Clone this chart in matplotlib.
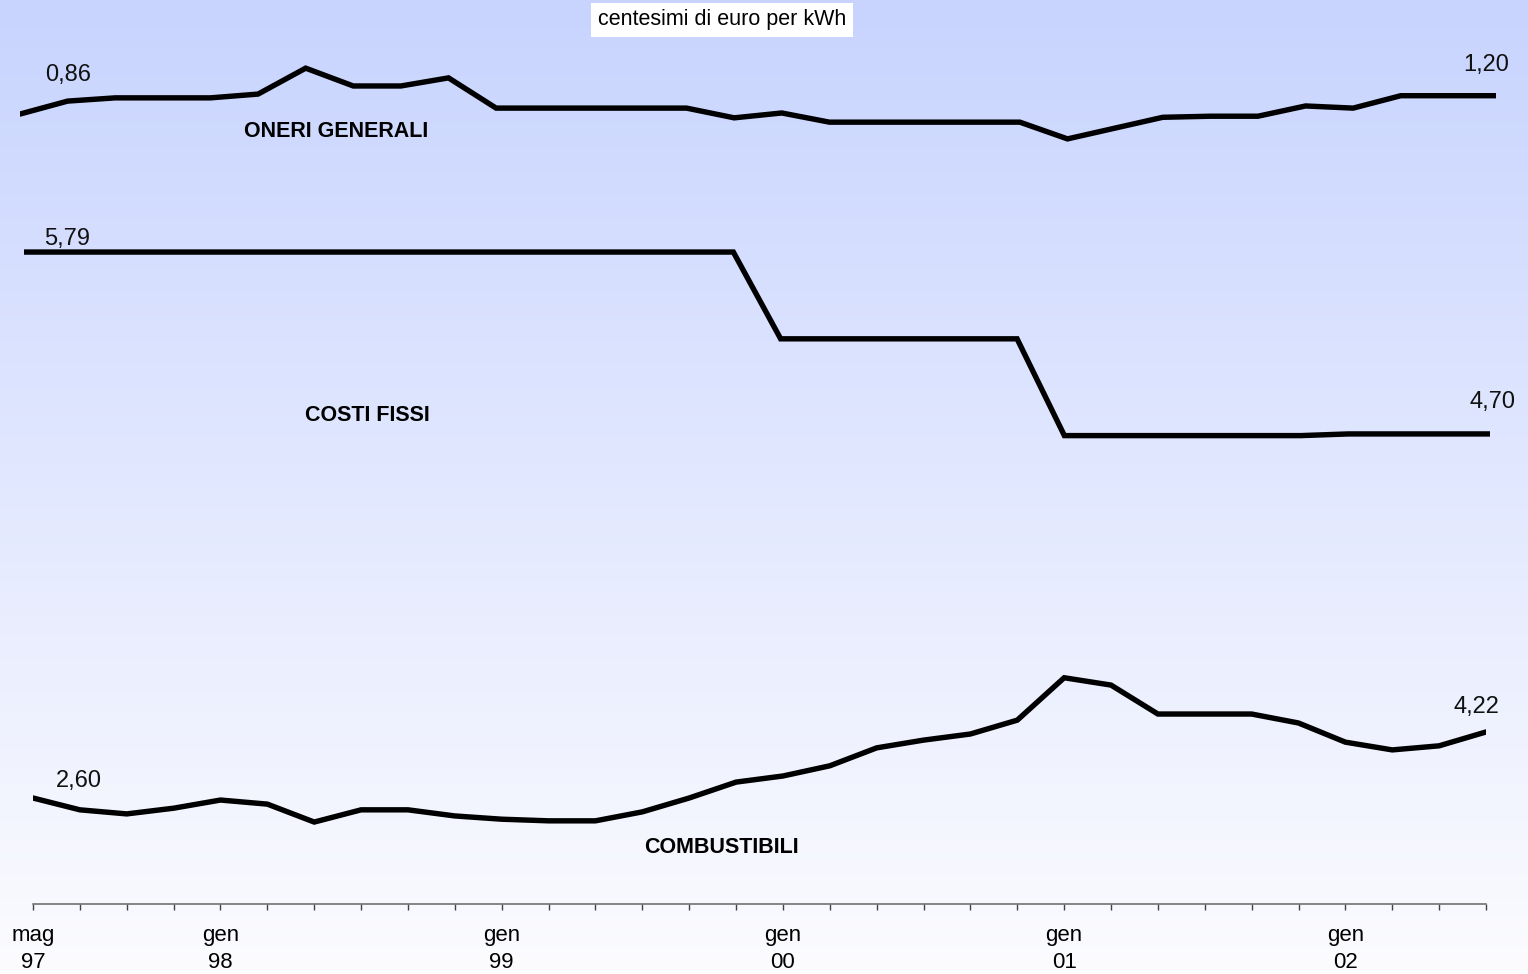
import numpy as np
import matplotlib.pyplot as plt

plt.rcParams['font.family'] = ['Liberation Sans', 'DejaVu Sans']

# bimonthly periods, mag 97 .. lug 02
periods = ['mag 97', 'lug 97', 'set 97', 'nov 97',
           'gen 98', 'mar 98', 'mag 98', 'lug 98', 'set 98', 'nov 98',
           'gen 99', 'mar 99', 'mag 99', 'lug 99', 'set 99', 'nov 99',
           'gen 00', 'mar 00', 'mag 00', 'lug 00', 'set 00', 'nov 00',
           'gen 01', 'mar 01', 'mag 01', 'lug 01', 'set 01', 'nov 01',
           'gen 02', 'mar 02', 'mag 02', 'lug 02']

# centesimi di euro per kWh
oneri_generali = [0.86, 1.10, 1.16, 1.16, 1.16, 1.23, 1.71, 1.38, 1.38, 1.53,
                  0.97, 0.97, 0.97, 0.97, 0.97, 0.79, 0.88, 0.71, 0.71, 0.71,
                  0.71, 0.71, 0.40, 0.60, 0.80, 0.82, 0.82, 1.01, 0.97, 1.20,
                  1.20, 1.20]
costi_fissi = [5.79] * 16 + [5.27] * 6 + [4.69] * 6 + [4.70] * 4
combustibili = [2.60, 2.31, 2.21, 2.35, 2.55, 2.45, 2.01, 2.31, 2.31, 2.16,
                2.08, 2.04, 2.04, 2.26, 2.60, 2.99, 3.14, 3.39, 3.83, 4.02,
                4.17, 4.51, 5.55, 5.37, 4.66, 4.66, 4.66, 4.44, 3.97, 3.78,
                3.88, 4.22]

W, H = 1528, 974
fig = plt.figure(figsize=(W / 100, H / 100), dpi=100)


def box(x0, x1, ytop, ybot):
    # pixel box -> figure fraction
    return [x0 / W, 1 - ybot / H, (x1 - x0) / W, (ybot - ytop) / H]


# gradient background
bg = fig.add_axes([0, 0, 1, 1], zorder=0)
top = np.array([200, 212, 254]) / 255
bot = np.array([252, 252, 255]) / 255
t = np.linspace(0, 1, 256)[:, None]
grad = (top * (1 - t) + bot * t)[:, None, :]
bg.imshow(grad, aspect='auto', extent=[0, 1, 0, 1])
bg.axis('off')

x = np.arange(len(periods))
style = dict(color='black', lw=3.9, solid_capstyle='round', solid_joinstyle='miter')

ax_o = fig.add_axes(box(20, 1496, 52.5, 160.5), zorder=2)
ax_f = fig.add_axes(box(24, 1490, 217, 484), zorder=2)
ax_c = fig.add_axes(box(33, 1486, 659.4, 904), zorder=2)

panels = [(ax_o, oneri_generali, (0, 2), (48, 33), (-10, 25)),
          (ax_f, costi_fissi, (4.4, 6.0), (43, 7), (2, 26)),
          (ax_c, combustibili, (0, 6), (46, 11), (-10, 19))]

for ax, vals, ylim, off_first, off_last in panels:
    ax.set_facecolor('none')
    ax.plot(x, vals, **style)
    ax.set_xlim(0, len(periods) - 1)
    ax.set_ylim(*ylim)
    ax.set_yticks([])
    for s in ax.spines.values():
        s.set_visible(False)
    for i, off in ((0, off_first), (len(vals) - 1, off_last)):
        ax.annotate(f'{vals[i]:.2f}'.replace('.', ','), (x[i], vals[i]),
                    xytext=off, textcoords='offset pixels',
                    ha='center', va='baseline', fontsize=17, color='#111111')
    if ax is not ax_c:
        ax.set_xticks([])

# time axis
ax_c.spines['bottom'].set_visible(True)
ax_c.spines['bottom'].set_color('#666666')
ax_c.spines['bottom'].set_linewidth(1.1)
ax_c.spines['bottom'].set_position(('data', 0))
labels = [p.replace(' ', '\n') if (i == 0 or p.startswith('gen')) else ''
          for i, p in enumerate(periods)]
ax_c.set_xticks(x)
ax_c.set_xticklabels(labels, fontsize=16, linespacing=1.35)
ax_c.tick_params(axis='x', direction='out', length=4.3, width=1.0,
                 color='#444444', pad=11)

# series names
name_style = dict(ha='center', va='baseline', fontsize=15.5, fontweight='bold')
fig.text(336 / W, 1 - 137 / H, 'ONERI GENERALI', **name_style)
fig.text(367 / W, 1 - 421 / H, 'COSTI FISSI', **name_style)
fig.text(721 / W, 1 - 853 / H, 'COMBUSTIBILI', **name_style)

fig.text(722 / W, 1 - 20 / H, 'centesimi di euro per kWh', ha='center', va='center',
         fontsize=15.5, bbox=dict(facecolor='white', edgecolor='none',
                                  boxstyle='square,pad=0.3'))

fig.savefig('out.png', dpi=100)
